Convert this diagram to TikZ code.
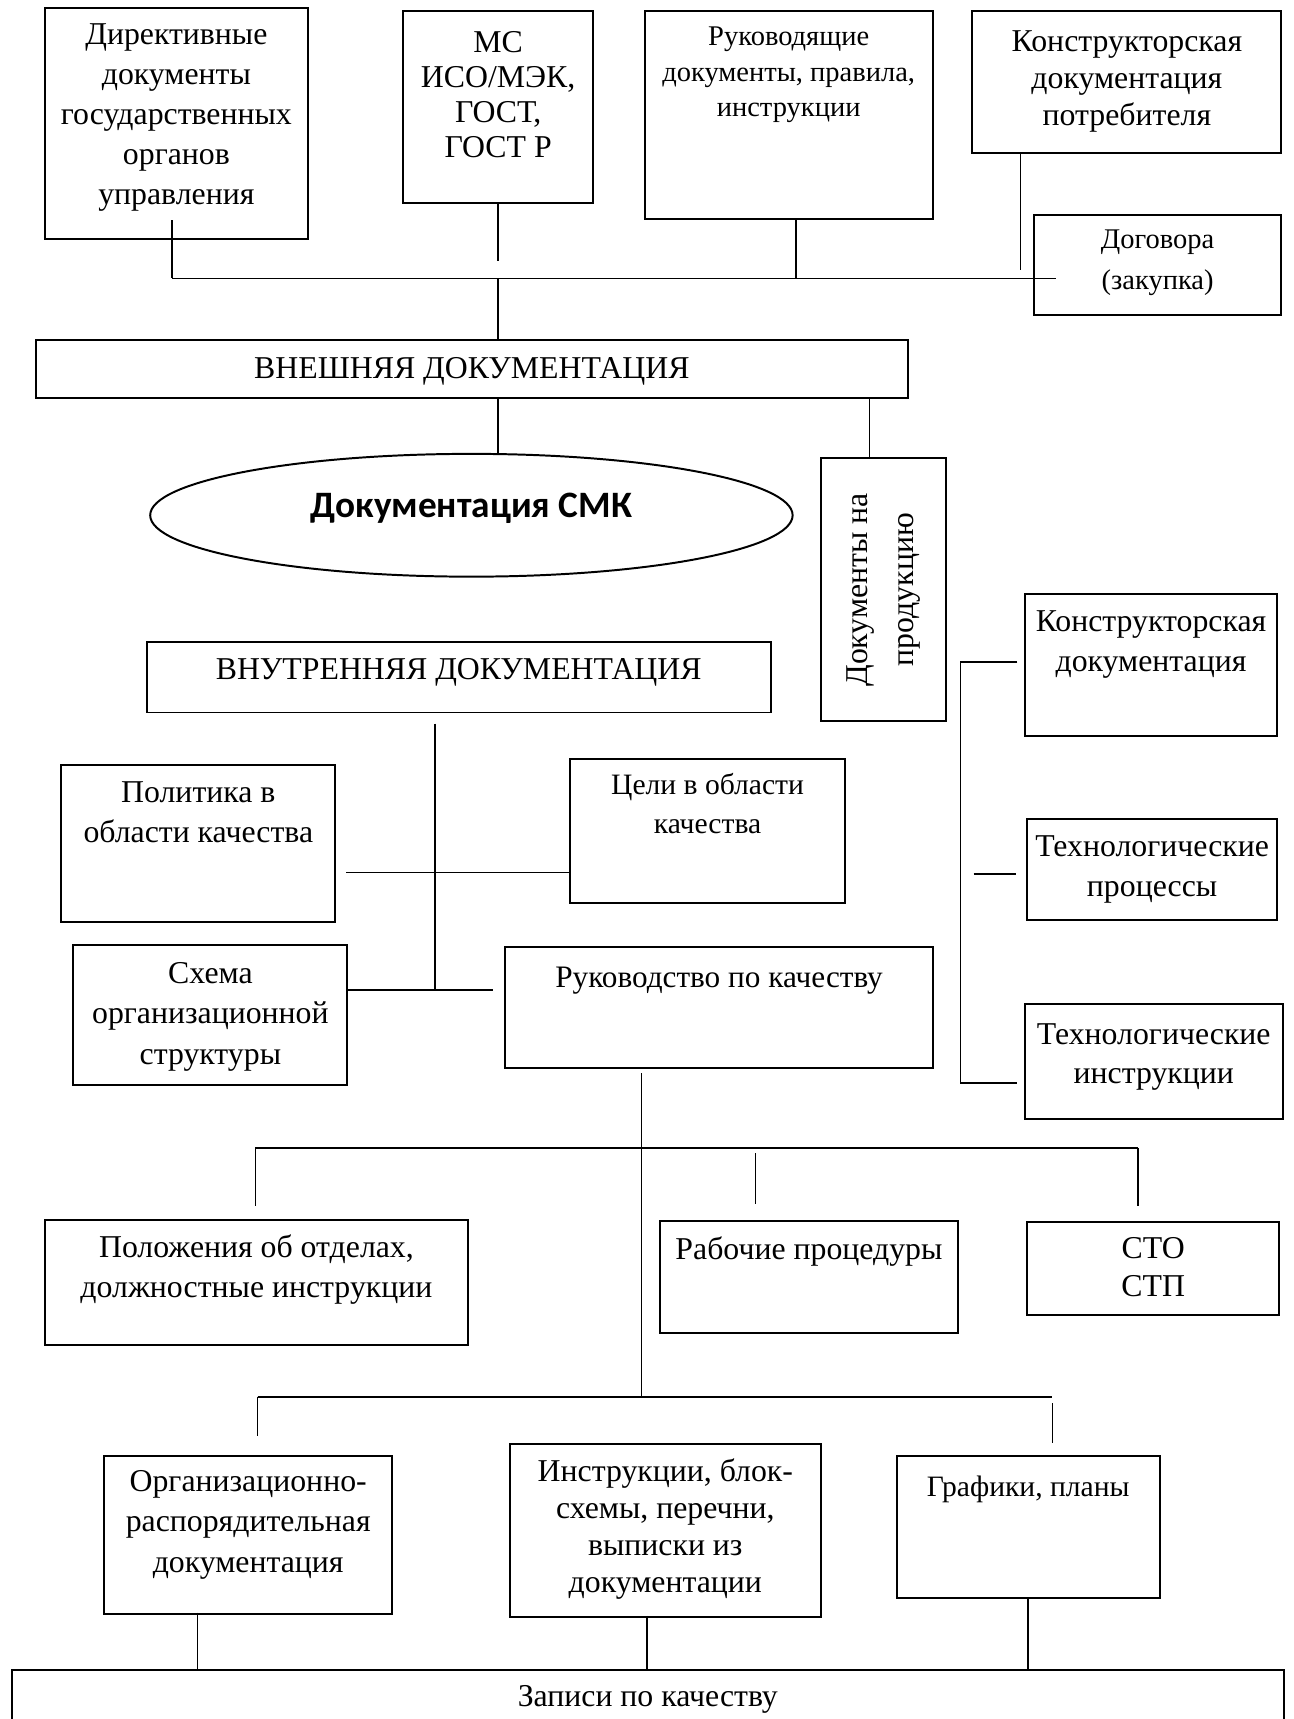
\documentclass[tikz,border=0pt]{standalone}
\usepackage{fontspec}
\setmainfont{Liberation Serif}
\newfontfamily\calibri{Carlito}
\usepackage{tikz}
\usetikzlibrary{shapes.geometric,calc}

% box text: width, height, first baseline from top, lines
\newcommand{\doccell}[4]{\parbox[t][#2pt][t]{#1pt}{\centering\rule{0pt}{#3pt}%
\makebox[0pt]{\begin{tabular}[t]{@{}c@{}}#4\end{tabular}}}}

\begin{document}
\begin{tikzpicture}
[x=1pt,y=-1pt,box/.style = {draw, line width=1.8pt, anchor=north west, inner sep=0pt, font=\fontsize{29}{36.5}\selectfont},
link/.style = {line width=1.5pt},]
\useasboundingbox (0,0) rectangle (1180,1568);
\clip (0,0) rectangle (1180,1568);
% external documentation
\node (dir) at (40,6)[box] {\doccell{240}{211}{34}{Директивные\\документы\\государственных\\органов\\управления}};
\node (ms) at (367,9)[box,font=\fontsize{29}{32}\selectfont] {\doccell{173}{175}{38}{МС\\ИСО/МЭК,\\ГОСТ,\\ГОСТ Р}};
\node (ruk) at (587,9)[box,font=\fontsize{26}{32}\selectfont] {\doccell{263}{190}{32}{Руководящие\\документы, правила,\\инструкции}};
\node (kons) at (886,9)[box,font=\fontsize{29}{34}\selectfont] {\doccell{282}{130}{37}{Конструкторская\\документация\\потребителя}};
\node (dog) at (942,195)[box,font=\fontsize{26}{37}\selectfont] {\doccell{226}{91}{31}{Договора\\(закупка)}};
\node (ext) at (32,309)[box] {\doccell{795}{53}{35}{ВНЕШНЯЯ ДОКУМЕНТАЦИЯ}};
\node (smk) at (430,470)[ellipse,draw,line width=1.8pt,minimum width=586pt,minimum height=112pt,inner sep=0pt,text depth=18pt,font=\calibri\bfseries\fontsize{34}{40}\selectfont] {Документация СМК};
\node (prod) at (806,538)[draw,line width=1.8pt,rotate=90,minimum width=240pt,minimum height=114pt,inner sep=0pt,align=center,font=\fontsize{29}{42}\selectfont] {Документы на\\продукцию};
% internal documentation
\node (int) at (133,585)[box] {\doccell{569}{64}{34}{ВНУТРЕННЯЯ ДОКУМЕНТАЦИЯ}};
\node (pol) at (55,697)[box,font=\fontsize{29}{37}\selectfont] {\doccell{250}{143}{34}{Политика в\\области качества}};
\node (cel) at (519,691)[box,font=\fontsize{27}{35}\selectfont] {\doccell{251}{132}{33}{Цели в области\\качества}};
\node (sch) at (66,861)[box,font=\fontsize{29}{37}\selectfont] {\doccell{250}{128}{35}{Схема\\организационной\\структуры}};
\node (rkk) at (460,863)[box,font=\fontsize{28.5}{36}\selectfont] {\doccell{390}{110}{37}{Руководство по качеству}};
\node (kd) at (934,541)[box] {\doccell{230}{129}{34}{Конструкторская\\документация}};
\node (tp) at (936,746)[box] {\doccell{228}{92}{34}{Технологические\\процессы}};
\node (ti) at (934,915)[box,font=\fontsize{29}{35}\selectfont] {\doccell{235}{105}{37}{Технологические\\инструкции}};
\node (pol2) at (40,1112)[box,font=\fontsize{29}{37}\selectfont] {\doccell{386}{114}{34}{Положения об отделах,\\должностные инструкции}};
\node (rp) at (601,1113)[box] {\doccell{272}{102}{35}{Рабочие процедуры}};
\node (sto) at (936,1114)[box,font=\fontsize{29}{35}\selectfont] {\doccell{230}{85}{33}{СТО\\СТП}};
\node (ord) at (94,1327)[box] {\doccell{263}{144}{33}{Организационно-\\распорядительная\\документация}};
\node (ins) at (464,1316)[box,font=\fontsize{29}{34}\selectfont] {\doccell{284}{158}{34}{Инструкции, блок-\\схемы, перечни,\\выписки из\\документации}};
\node (gr) at (817,1327)[box,font=\fontsize{27}{34}\selectfont] {\doccell{240}{130}{37}{Графики, планы}};
\node (zap) at (10,1522)[box] {\doccell{1160}{80}{34}{Записи по качеству}};
% top bus
\coordinate (bl) at (157,254);
\coordinate (br) at (963,254);
\coordinate (rk) at (726,254);
\coordinate (kn) at (931,246);
\coordinate (pr) at (793,380);
\draw[link] (bl) -- (br);
\draw[link] (dir.south -| bl) ++(0,-18) -- (bl);
\draw[link] (ms.south) -- ++(0,52);
\draw[link] (ms.south |- bl) -- (ms.south |- ext.north);
\draw[link] (rk |- ruk.south) -- (rk);
\draw[link] (kn |- kons.south) -- (kn);
\draw[link] (ms.south |- ext.south) -- (ms.south |- smk.north);
\draw[link] (pr |- ext.south) -- (pr |- prod.east);
% middle
\coordinate (i1) at (397,660);
\coordinate (i2) at (397,903);
\coordinate (pc) at (316,796);
\coordinate (rq) at (450,903);
\draw[link] (i1) -- (i2);
\draw[link] (pc) -- (pc -| cel.west);
\draw[link] (sch.east |- i2) -- (rq);
% product documents
\coordinate (t0) at (928,604);
\coordinate (t1) at (876,604);
\coordinate (t2) at (876,988);
\coordinate (t3) at (888,797);
\draw[link] (t0) -- (t1) -- (t2) -- (t2 -| t0);
\draw[link] (t3) -- ++(39,0);
% lower buses
\coordinate (v1) at (585,979);
\coordinate (a1) at (233,1047);
\coordinate (a2) at (1038,1047);
\coordinate (a3) at (689,1052);
\coordinate (c1) at (235,1274);
\coordinate (c2) at (960,1274);
\draw[link] (v1) -- (v1 |- c1);
\draw[link] (a1) -- (a2);
\draw[link] (a1) -- ++(0,53);
\draw[link] (a3) -- ++(0,46);
\draw[link] (a2) -- ++(0,53);
\draw[link] (c1) -- (c2);
\draw[link] (c1) -- ++(0,36);
\draw[link] (c2) ++(0,6) -- ++(0,36);
% records
\coordinate (z1) at (180,1471);
\coordinate (z2) at (590,1474);
\draw[link] (z1) -- (z1 |- zap.north);
\draw[link] (z2) -- (z2 |- zap.north);
\draw[link] (gr.south) -- (gr.south |- zap.north);
\end{tikzpicture}
\end{document}
